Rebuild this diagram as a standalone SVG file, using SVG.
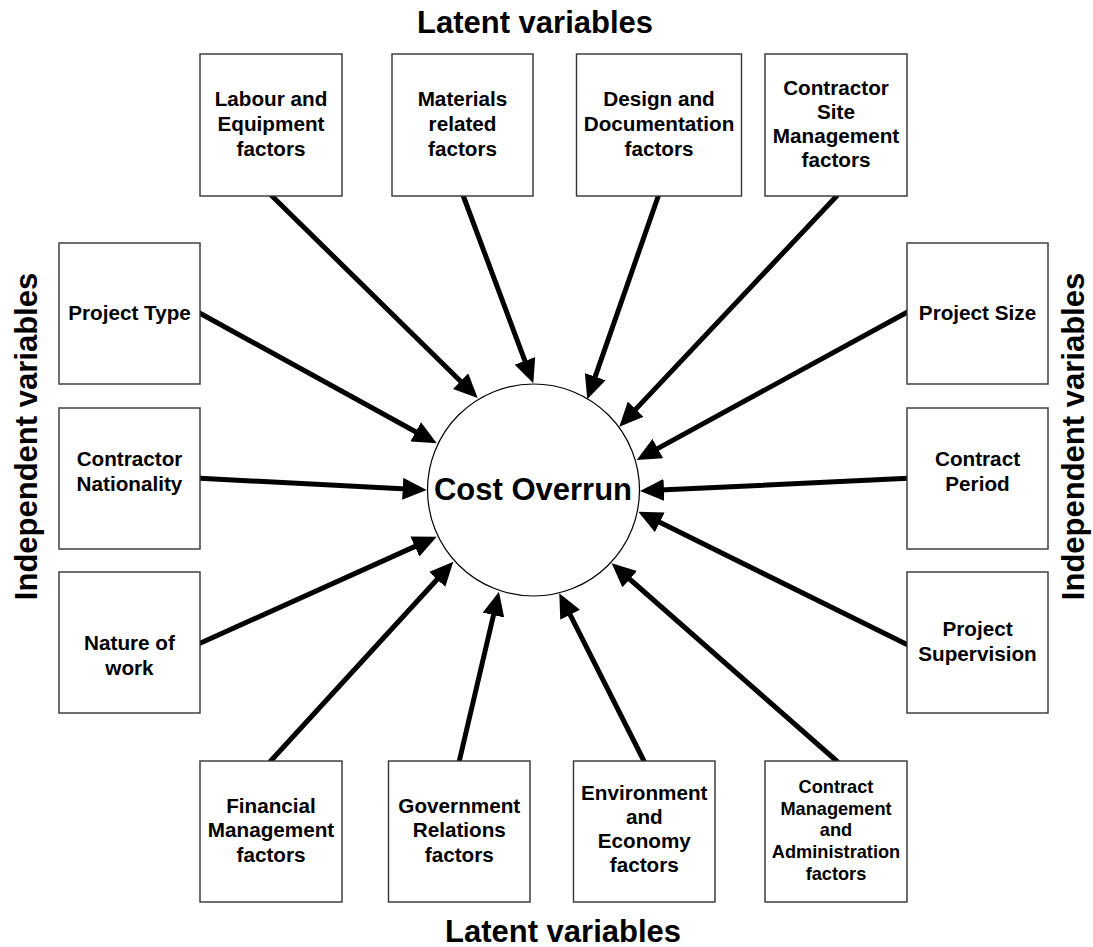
<svg xmlns="http://www.w3.org/2000/svg" width="1093" height="947" viewBox="0 0 1093 947">
<defs>
<style>
.box{fill:#fff;stroke:#333;stroke-width:1.4}
.t{font-family:"Liberation Sans",Arial,sans-serif;font-weight:bold;font-size:20.7px;fill:#000;text-anchor:middle}
.ts{font-size:18.2px}
.title{font-family:"Liberation Sans",Arial,sans-serif;font-weight:bold;font-size:31px;fill:#000;text-anchor:middle}
.conn line{stroke:#000;stroke-width:5;stroke-linecap:round;marker-end:url(#arr)}
</style>
<marker id="arr" markerUnits="userSpaceOnUse" markerWidth="24" markerHeight="22" refX="4" refY="11" orient="auto" viewBox="0 0 24 22">
<path d="M0,0 L24,11 L0,22 z" fill="#000"/>
</marker>
</defs>
<rect width="1093" height="947" fill="#fff"/>

<text class="title" x="535" y="33">Latent variables</text>
<text class="title" x="563" y="942">Latent variables</text>
<text class="title" transform="translate(37,436.5) rotate(-90)">Independent variables</text>
<text class="title" transform="translate(1084,436.5) rotate(-90)">Independent variables</text>

<g class="conn" id="connectors">
<line x1="272" y1="196" x2="463.4" y2="384.0"/>
<line x1="463.3" y1="196" x2="526.3" y2="364.6"/>
<line x1="658.3" y1="196" x2="593.9" y2="380.4"/>
<line x1="836.7" y1="196" x2="633.0" y2="412.1"/>
<line x1="908" y1="311.7" x2="654.3" y2="450.4"/>
<line x1="908" y1="478.3" x2="660.0" y2="490.1"/>
<line x1="908" y1="645" x2="656.2" y2="520.6"/>
<line x1="836.7" y1="761" x2="626.7" y2="576.5"/>
<line x1="644" y1="761" x2="568.3" y2="611.2"/>
<line x1="459.3" y1="761" x2="494.4" y2="611.2"/>
<line x1="270.7" y1="761" x2="439.8" y2="576.5"/>
<line x1="200" y1="643.3" x2="418.5" y2="544.9"/>
<line x1="200" y1="478.3" x2="406.7" y2="489.0"/>
<line x1="200" y1="313.3" x2="419.2" y2="433.7"/>
</g>

<g id="cost-overrun">
<circle cx="533.5" cy="490" r="106" fill="#fff" stroke="#000" stroke-width="1.2"/>
<text class="title" x="533" y="499.5">Cost Overrun</text>
</g>

<g id="labour">
<rect class="box" x="200" y="54" width="142" height="142"/>
<text class="t" x="271" y="106">Labour and</text>
<text class="t" x="271" y="131">Equipment</text>
<text class="t" x="271" y="156">factors</text>
</g>
<g id="materials">
<rect class="box" x="392" y="54" width="141" height="142"/>
<text class="t" x="462.5" y="106">Materials</text>
<text class="t" x="462.5" y="131">related</text>
<text class="t" x="462.5" y="156">factors</text>
</g>
<g id="design">
<rect class="box" x="576.5" y="54" width="165" height="142"/>
<text class="t" x="659" y="106">Design and</text>
<text class="t" x="659" y="131">Documentation</text>
<text class="t" x="659" y="156">factors</text>
</g>
<g id="site-management">
<rect class="box" x="765" y="54" width="142" height="142"/>
<text class="t" x="836" y="95">Contractor</text>
<text class="t" x="836" y="119">Site</text>
<text class="t" x="836" y="143">Management</text>
<text class="t" x="836" y="167">factors</text>
</g>

<g id="project-type">
<rect class="box" x="59" y="243" width="141" height="141"/>
<text class="t" x="129.5" y="320">Project Type</text>
</g>
<g id="contractor-nationality">
<rect class="box" x="59" y="408" width="141" height="141"/>
<text class="t" x="129.5" y="466">Contractor</text>
<text class="t" x="129.5" y="490.5">Nationality</text>
</g>
<g id="nature-of-work">
<rect class="box" x="59" y="572" width="141" height="141"/>
<text class="t" x="129.5" y="650">Nature of</text>
<text class="t" x="129.5" y="674.5">work</text>
</g>

<g id="project-size">
<rect class="box" x="907" y="243" width="141" height="141"/>
<text class="t" x="977.5" y="320">Project Size</text>
</g>
<g id="contract-period">
<rect class="box" x="907" y="408" width="141" height="141"/>
<text class="t" x="977.5" y="466">Contract</text>
<text class="t" x="977.5" y="490.5">Period</text>
</g>
<g id="project-supervision">
<rect class="box" x="907" y="572" width="141" height="141"/>
<text class="t" x="977.5" y="636">Project</text>
<text class="t" x="977.5" y="660.5">Supervision</text>
</g>

<g id="financial">
<rect class="box" x="200" y="761" width="142" height="141"/>
<text class="t" x="271" y="812.5">Financial</text>
<text class="t" x="271" y="837">Management</text>
<text class="t" x="271" y="861.5">factors</text>
</g>
<g id="government">
<rect class="box" x="388.5" y="761" width="141.5" height="141"/>
<text class="t" x="459.3" y="812.5">Government</text>
<text class="t" x="459.3" y="837">Relations</text>
<text class="t" x="459.3" y="861.5">factors</text>
</g>
<g id="environment">
<rect class="box" x="573.5" y="761" width="141.5" height="141"/>
<text class="t" x="644.3" y="800">Environment</text>
<text class="t" x="644.3" y="824">and</text>
<text class="t" x="644.3" y="848">Economy</text>
<text class="t" x="644.3" y="872">factors</text>
</g>
<g id="contract-management">
<rect class="box" x="765" y="761" width="142" height="141"/>
<text class="t ts" x="836" y="792.7">Contract</text>
<text class="t ts" x="836" y="814.5">Management</text>
<text class="t ts" x="836" y="836.3">and</text>
<text class="t ts" x="836" y="858.1">Administration</text>
<text class="t ts" x="836" y="880">factors</text>
</g>
</svg>
